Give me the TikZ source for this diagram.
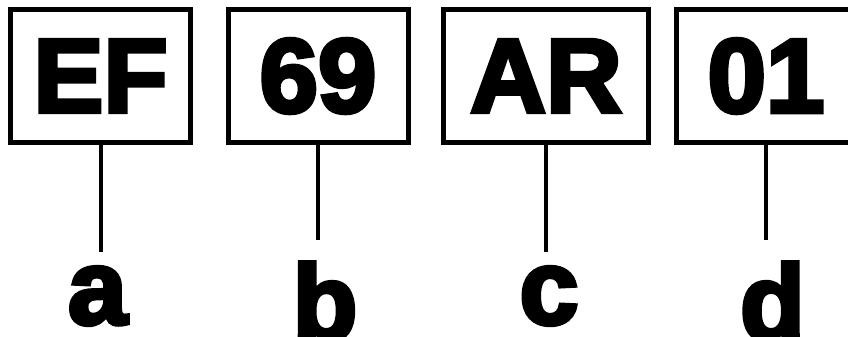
\documentclass[tikz,border=0pt]{standalone}
\usepackage{fontspec}
\newfontfamily\heavyfont{Liberation Sans Bold}[FakeBold=4]
\begin{document}
\begin{tikzpicture}[x=1bp,y=-1bp,
  plate/.style={draw=black, line width=5bp, inner sep=0pt, minimum width=180bp, minimum height=133bp, font=\heavyfont\fontsize{105bp}{105bp}\selectfont},
  conn/.style={draw=black, line width=4bp},
  tag/.style={inner sep=0pt, anchor=base, font=\heavyfont\fontsize{106bp}{106bp}\selectfont}]
\useasboundingbox (0,0) rectangle (848,336);
\clip (0,0) rectangle (848,336);
\fill[white] (0,0) rectangle (848,336);
\node[plate] (p1) at (100.5,76) {EF};
\node[plate] (p2) at (318,76) {69};
\node[plate, minimum width=205bp] (p3) at (546,76) {AR};
\node[plate] (p4) at (766,76) {01};
\coordinate (e1) at (100.5,252);
\coordinate (e2) at (318,240);
\coordinate (e3) at (546,252);
\coordinate (e4) at (766,240);
\draw[conn] (p1.south) -- (e1);
\draw[conn] (p2.south) -- (e2);
\draw[conn] (p3.south) -- (e3);
\draw[conn] (p4.south) -- (e4);
\node[tag] (t1) at (97.5,324) {a};
\node[tag] (t2) at (325,339) {b};
\node[tag] (t3) at (549,324) {c};
\node[tag] (t4) at (772.5,339) {d};
\end{tikzpicture}
\end{document}
